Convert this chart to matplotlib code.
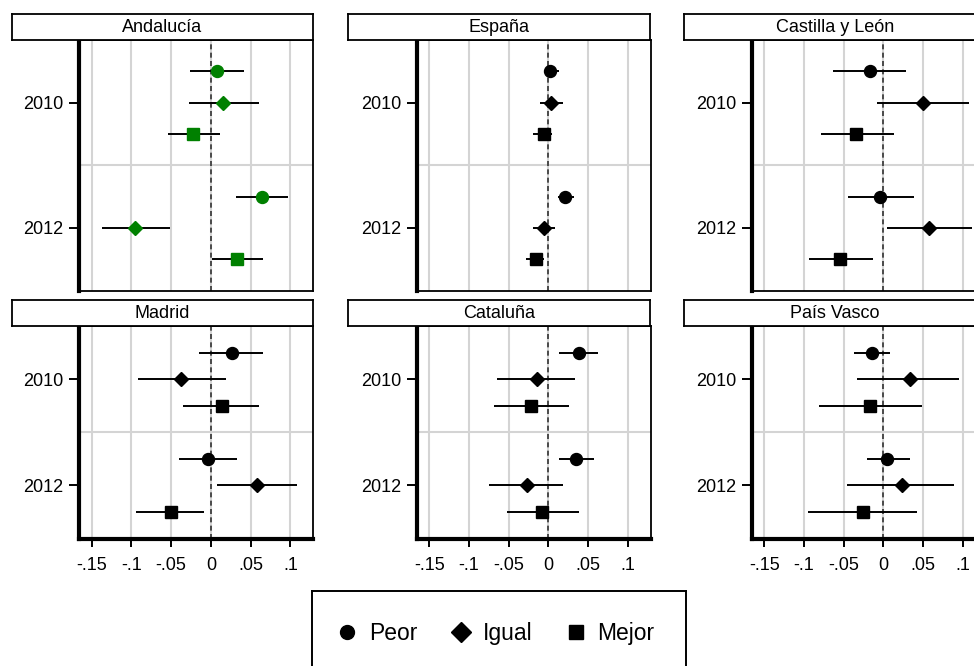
import numpy as np
import matplotlib
matplotlib.use('Agg')
import matplotlib.pyplot as plt
from matplotlib.lines import Line2D

plt.rcParams['font.family'] = ['Liberation Sans', 'DejaVu Sans']

###############################################################################
''' Data '''
regions = ['Andalucía', 'España', 'Castilla y León', 'Madrid', 'Cataluña', 'País Vasco']
years = ['2010', '2012']
groups = ['Peor', 'Igual', 'Mejor']

# order in each row: 2010 Peor, Igual, Mejor, 2012 Peor, Igual, Mejor
coef = [
    [0.008, 0.015, -0.022, 0.064, -0.095, 0.033],
    [0.002, 0.003, -0.006, 0.021, -0.005, -0.016],
    [-0.017, 0.050, -0.034, -0.004, 0.058, -0.054],
    [0.027, -0.037, 0.014, -0.004, 0.058, -0.050],
    [0.038, -0.014, -0.022, 0.035, -0.027, -0.008],
    [-0.014, 0.033, -0.017, 0.005, 0.023, -0.026],
]
ci_low = [
    [-0.026, -0.028, -0.054, 0.031, -0.137, 0.001],
    [-0.006, -0.011, -0.019, 0.012, -0.019, -0.028],
    [-0.063, -0.008, -0.079, -0.045, 0.005, -0.094],
    [-0.015, -0.092, -0.035, -0.040, 0.0075, -0.094],
    [0.013, -0.065, -0.069, 0.013, -0.075, -0.052],
    [-0.037, -0.033, -0.081, -0.021, -0.046, -0.095],
]
ci_high = [
    [0.042, 0.060, 0.012, 0.097, -0.052, 0.065],
    [0.013, 0.018, 0.005, 0.032, 0.008, -0.005],
    [0.029, 0.108, 0.013, 0.039, 0.111, -0.0125],
    [0.066, 0.019, 0.061, 0.033, 0.108, -0.009],
    [0.062, 0.034, 0.026, 0.058, 0.018, 0.038],
    [0.008, 0.095, 0.048, 0.033, 0.089, 0.042],
]
xticks = [-0.15, -0.1, -0.05, 0, 0.05, 0.1]
xtick_labels = ['-.15', '-.1', '-.05', '0', '.05', '.1']

###############################################################################
''' Layout (pixels of the 974x666 picture) '''
W, H = 974, 666
markers = ['o', 'D', 's']
msizes = [8.6, 7.6, 8.4]
leg_sizes = [10, 9.7, 10]
offsets = [-0.25, 0.0, 0.25]
FS = 13

def rect(x0, y0, x1, y1):
    return [x0 / W, 1 - y1 / H, (x1 - x0) / W, (y1 - y0) / H]

col_plot_left = [79, 416.5, 751.5]
col_head_left = [12, 347.5, 684]
plot_w = 234
rows = [(14, 40, 290.5), (300, 326, 538.5)]   # header top, plot top, plot bottom

fig = plt.figure(figsize=(W / 100, H / 100), dpi=100)

for i, reg in enumerate(regions):
    r, c = divmod(i, 3)
    ht, pt, pb = rows[r]
    x0 = col_plot_left[c]
    ax = fig.add_axes(rect(x0, pt, x0 + plot_w, pb))

    # header strip
    hx = fig.add_axes(rect(col_head_left[c], ht, x0 + plot_w, pt))
    hx.set_xticks([]); hx.set_yticks([])
    for s in hx.spines.values():
        s.set_linewidth(1.3)
    hx.text(0.5, 0.47, reg, ha='center', va='center', fontsize=FS,
            transform=hx.transAxes)

    color = 'green' if reg == 'Andalucía' else 'black'
    for yi in range(len(years)):
        for g in range(len(groups)):
            k = yi * 3 + g
            y = yi + 1 + offsets[g]
            ax.plot([ci_low[i][k], ci_high[i][k]], [y, y], color='black',
                    lw=1.4, zorder=3, solid_capstyle='butt')
            ax.plot(coef[i][k], y, marker=markers[g], ms=msizes[g],
                    color=color, mec=color, ls='none', zorder=4)

    ax.set_xlim(-0.166, 0.1285)
    ax.set_ylim(2.5, 0.5)
    for xt in xticks:
        ax.axvline(xt, color='#d4d4d4', lw=1.5, zorder=1)
    ax.axhline(1.5, color='#d4d4d4', lw=1.5, zorder=1)
    ax.axvline(0, color='#333333', lw=1.2, ls=(0, (3, 2)), zorder=2)

    ax.set_yticks([1, 2])
    ax.set_yticklabels(years, fontsize=FS)
    ax.tick_params(axis='y', length=7, width=1.4, pad=4)
    ax.set_xticks(xticks)
    for s in ax.spines.values():
        s.set_linewidth(1.3)
    ax.spines['left'].set_linewidth(3)
    if r == 1:
        ax.set_xticklabels(xtick_labels, fontsize=FS)
        ax.tick_params(axis='x', length=5.5, width=1.4, pad=8)
        ax.spines['bottom'].set_linewidth(3)
    else:
        ax.tick_params(axis='x', length=0, labelbottom=False)

###############################################################################
''' Legend '''
lx = fig.add_axes(rect(312, 591, 686, 676))
lx.set_xticks([]); lx.set_yticks([])
for s in lx.spines.values():
    s.set_linewidth(1.4)
handles = [Line2D([], [], marker=m, ms=ms, color='black', ls='none')
           for m, ms in zip(markers, leg_sizes)]
lx.legend(handles, groups, loc='center', ncol=3, frameon=False, fontsize=16.5,
          handletextpad=0.45, columnspacing=1.4, handlelength=1.0,
          bbox_to_anchor=(0.49, 0.5))

fig.savefig('out.png', dpi=100)
